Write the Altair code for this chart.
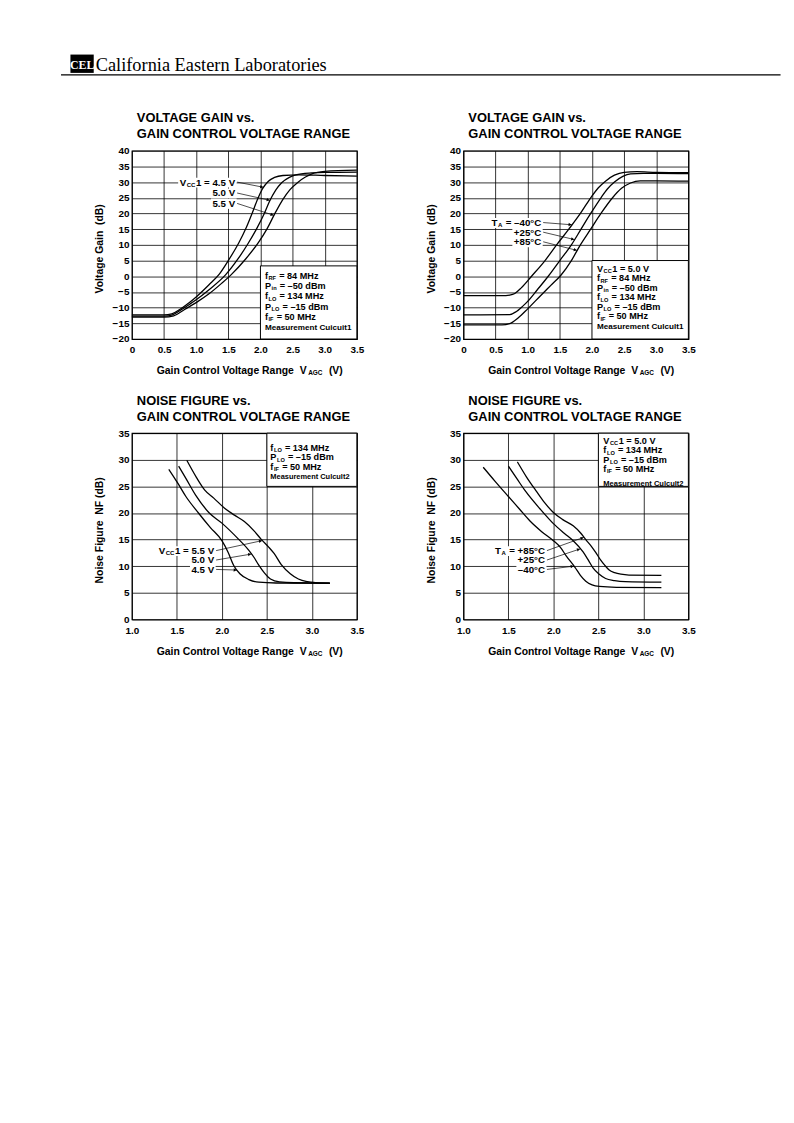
import math
import altair as alt
import numpy as np
import pandas as pd

FONT = "Liberation Sans"
SERIF = "Liberation Serif"
NB = "\u00a0"

# ---------------------------------------------------------------
# Data (V_AGC in volts, gain / NF in dB)
# ---------------------------------------------------------------
# Panel 1: voltage gain vs V_AGC, parameter Vcc1
g1_x_45 = [0, 0.5, 0.62, 0.75, 0.9, 1.0, 1.2, 1.36, 1.5, 1.66, 1.78, 1.87, 1.96, 2.03, 2.12, 2.22, 2.35, 2.6, 3.0, 3.5]
g1_y_45 = [-12.3, -12.3, -12.0, -10.5, -8.3, -6.6, -2.7, 0.7, 5.0, 10.5, 15.5, 20.0, 24.8, 27.8, 30.2, 31.5, 32.1, 32.3, 32.1, 31.9]
g1_x_50 = [0, 0.5, 0.63, 0.78, 0.9, 1.0, 1.2, 1.46, 1.65, 1.81, 1.95, 2.06, 2.14, 2.24, 2.33, 2.45, 2.55, 2.8, 3.0, 3.5]
g1_y_50 = [-12.7, -12.7, -12.3, -10.5, -8.9, -7.5, -4.3, 0.5, 5.5, 10.5, 15.5, 20.0, 23.8, 27.5, 29.8, 31.5, 32.3, 32.9, 33.1, 33.2]
g1_x_55 = [0, 0.5, 0.65, 0.82, 1.0, 1.2, 1.4, 1.55, 1.77, 1.97, 2.1, 2.22, 2.35, 2.46, 2.58, 2.7, 2.8, 3.0, 3.5]
g1_y_55 = [-13.0, -13.0, -12.6, -10.6, -8.4, -5.6, -2.2, 0.6, 5.5, 10.8, 15.0, 19.8, 24.5, 27.6, 29.9, 31.6, 32.6, 33.4, 33.8]

# Panel 2: voltage gain vs V_AGC, parameter TA
g2_x_m40 = [0, 0.6, 0.72, 0.8, 0.9, 1.06, 1.27, 1.45, 1.64, 1.82, 1.98, 2.1, 2.21, 2.35, 2.5, 2.7, 3.0, 3.5]
g2_y_m40 = [-6.2, -6.2, -6.0, -5.5, -3.7, 0.0, 5.0, 10.0, 15.0, 20.0, 25.0, 28.2, 30.3, 32.2, 33.1, 33.3, 33.1, 33.0]
g2_x_25 = [0, 0.72, 0.82, 0.92, 1.0, 1.15, 1.32, 1.5, 1.68, 1.83, 1.98, 2.14, 2.24, 2.35, 2.48, 2.6, 2.8, 3.0, 3.5]
g2_y_25 = [-12.3, -12.2, -11.3, -9.6, -8.0, -4.3, 0.0, 5.0, 10.0, 15.0, 20.0, 25.0, 27.8, 30.0, 31.8, 32.6, 32.8, 32.8, 32.7]
g2_x_85 = [0, 0.6, 0.72, 0.85, 1.0, 1.2, 1.36, 1.52, 1.68, 1.82, 1.98, 2.14, 2.32, 2.46, 2.6, 2.75, 3.0, 3.5]
g2_y_85 = [-15.5, -15.5, -15.1, -13.3, -10.4, -6.2, -2.9, 0.4, 5.0, 10.0, 15.0, 20.0, 25.0, 28.0, 29.7, 30.4, 30.4, 30.3]

# Panel 3: noise figure vs V_AGC, parameter Vcc1
n1_x_45 = [1.41, 1.51, 1.6, 1.74, 1.87, 2.0, 2.07, 2.13, 2.2, 2.3, 2.41, 2.6, 3.2]
n1_y_45 = [28.2, 25.6, 23.1, 20.0, 17.3, 14.8, 12.6, 10.2, 8.6, 7.5, 7.0, 6.85, 6.8]
n1_x_50 = [1.52, 1.6, 1.71, 1.86, 2.0, 2.19, 2.3, 2.36, 2.41, 2.47, 2.54, 2.64, 2.8, 3.2]
n1_y_50 = [28.8, 26.5, 23.3, 20.0, 18.1, 15.0, 13.0, 11.6, 10.2, 8.8, 7.6, 7.05, 6.9, 6.85]
n1_x_55 = [1.61, 1.72, 1.81, 1.91, 2.03, 2.14, 2.25, 2.36, 2.44, 2.52, 2.58, 2.66, 2.76, 2.85, 2.95, 3.05, 3.2]
n1_y_55 = [29.9, 26.6, 24.3, 22.8, 20.9, 19.6, 18.4, 16.6, 15.0, 13.6, 12.4, 10.3, 8.6, 7.6, 7.1, 6.9, 6.8]

# Panel 4: noise figure vs V_AGC, parameter TA
n2_x_m40 = [1.22, 1.35, 1.5, 1.62, 1.74, 1.87, 2.0, 2.08, 2.14, 2.24, 2.3, 2.36, 2.43, 2.51, 2.7, 3.2]
n2_y_m40 = [28.6, 26.0, 23.1, 20.8, 18.5, 16.5, 14.8, 13.5, 12.0, 9.8, 8.3, 7.2, 6.5, 6.2, 6.05, 6.0]
n2_x_25 = [1.5, 1.6, 1.69, 1.85, 2.0, 2.12, 2.22, 2.33, 2.39, 2.44, 2.51, 2.58, 2.68, 2.8, 3.2]
n2_y_25 = [28.8, 26.3, 24.1, 20.8, 18.0, 16.2, 14.8, 12.7, 11.1, 9.7, 8.5, 7.7, 7.3, 7.1, 7.0]
n2_x_85 = [1.6, 1.7, 1.81, 1.9, 2.0, 2.1, 2.22, 2.3, 2.36, 2.42, 2.47, 2.52, 2.57, 2.62, 2.68, 2.75, 2.84, 3.2]
n2_y_85 = [29.6, 26.8, 24.1, 22.0, 20.1, 18.8, 17.6, 16.3, 15.0, 13.8, 12.6, 11.3, 10.2, 9.3, 8.8, 8.5, 8.35, 8.3]

# Tick values
gain_x_ticks = [0, 0.5, 1.0, 1.5, 2.0, 2.5, 3.0, 3.5]
gain_y_ticks = list(range(-20, 41, 5))
nf_x_ticks = [1.0, 1.5, 2.0, 2.5, 3.0, 3.5]
nf_y_ticks = list(range(0, 36, 5))

# Texts
TITLE_GAIN = ["VOLTAGE GAIN vs.", "GAIN CONTROL VOLTAGE RANGE"]
TITLE_NF = ["NOISE FIGURE vs.", "GAIN CONTROL VOLTAGE RANGE"]
YT_GAIN = "Voltage Gain" + NB + NB + "(dB)"
YT_NF = "Noise Figure" + NB + NB + "NF (dB)"
XTITLE = [("Gain Control Voltage Range  V", "n"), ("AGC", "s"), ("  (V)", "n")]
L_FRF = [("f", "n"), ("RF", "s"), (" = 84 MHz", "n")]
L_PIN = [("P", "n"), ("in", "s"), (" = \u201350 dBm", "n")]
L_FLO = [("f", "n"), ("LO", "s"), (" = 134 MHz", "n")]
L_PLO = [("P", "n"), ("LO", "s"), (" = \u201315 dBm", "n")]
L_FIF = [("f", "n"), ("IF", "s"), (" = 50 MHz", "n")]
L_VCC5 = [("V", "n"), ("CC", "s"), ("1 = 5.0 V", "n")]

# ---------------------------------------------------------------
WID = {' ': .278, NB: .278, '.': .278, '=': .584, '\u2212': .584, '\u2013': .556, '-': .333,
       '\u00b0': .4, '+': .584, '(': .333, ')': .333,
       'A': .722, 'B': .722, 'C': .722, 'D': .722, 'E': .667, 'F': .611, 'G': .778, 'H': .722,
       'I': .278, 'L': .611, 'M': .833, 'N': .722, 'O': .778, 'P': .667, 'R': .722, 'S': .667,
       'T': .611, 'U': .722, 'V': .667, 'Z': .611,
       'a': .556, 'b': .611, 'c': .556, 'd': .611, 'e': .556, 'f': .333, 'g': .611, 'h': .611,
       'i': .278, 'k': .556, 'l': .278, 'm': .889, 'n': .611, 'o': .611, 'p': .611, 'r': .389,
       's': .556, 't': .333, 'u': .611, 'v': .556, 'z': .5, 'y': .556}
for d in "0123456789":
    WID[d] = .556


def tw(s, fs):
    return sum(WID.get(c, 0.6) for c in s) * fs


def text_rows(segs, left, base, fs, mfs=8.5):
    """Lay segments side by side; leading/trailing spaces become x advances."""
    rows, x = [], left
    for t, k in segs:
        if k == "s":
            size, dy = fs * 0.62, 1.2
        elif k == "m":
            size, dy = mfs, 0
        else:
            size, dy = fs, 0
        core = t.strip(" ")
        lead = len(t) - len(t.lstrip(" "))
        trail = len(t) - len(t.rstrip(" "))
        x += lead * 0.278 * size
        rows.append({"px": x, "py": base + dy, "t": core.replace(" ", NB), "fs": size})
        x += tw(core, size) + trail * 0.278 * size + 0.6
    return rows, x - left - 0.6


def panel(cfg, header=False):
    w, h = cfg["w"], cfg["h"]
    (x0, x1), (y0, y1) = cfg["xdom"], cfg["ydom"]

    def X(px):
        return x0 + px / w * (x1 - x0)

    def Y(py):
        return y1 - py / h * (y1 - y0)

    def PXf(v):
        return (v - x0) / (x1 - x0) * w

    def PYf(g):
        return (y1 - g) / (y1 - y0) * h

    xsc = alt.Scale(domain=[x0, x1], nice=False, zero=False)
    ysc = alt.Scale(domain=[y0, y1], nice=False, zero=False)
    xax = alt.Axis(values=cfg["xticks"], labelExpr=cfg["xlabel"], title=None)
    yax = alt.Axis(values=cfg["yticks"], format="d", title=None)

    def XE(f):
        return alt.X(f + ":Q", scale=xsc, axis=xax)

    def YE(f):
        return alt.Y(f + ":Q", scale=ysc, axis=yax)

    crow = []
    for name, xs, ys in cfg["series"]:
        for a, b in zip(xs, ys):
            crow.append({"v": a, "g": b, "s": name})
    curves = alt.Chart(pd.DataFrame(crow)).mark_line(
        color="black", strokeWidth=1.3, interpolate="monotone"
    ).encode(x=XE("v"), y=YE("g"), detail="s:N")

    texts = []
    bx0, bx1, by0, by1 = cfg["box"]
    box = alt.Chart(pd.DataFrame([{"a": bx0, "b": bx1, "c": by0, "d": by1}])).mark_rect(
        fill="white", stroke="black", strokeWidth=1
    ).encode(x=XE("a"), x2="b", y=YE("c"), y2="d")
    bleft = PXf(bx0) + cfg["box_inset"]
    for segs, base in zip(cfg["box_lines"], cfg["box_bases"]):
        rows, _ = text_rows(segs, bleft, base, 9.2, cfg["mfs"])
        texts += rows

    smap = {name: (xs, ys) for name, xs, ys in cfg["series"]}
    lfs = 9.8
    bgs, leaders, heads = [], [], []
    for segs, right, base, sname, tipv in cfg["labels"]:
        rows, wd = text_rows(segs, 0, base, lfs)
        left = right - wd
        for r in rows:
            r["px"] += left
        texts += rows
        bgs.append({"a": X(left - 1.5), "b": X(right + 1.5), "c": Y(base - 8.0), "d": Y(base + 2.0)})
        sx, sy = right + 2, base - 3.5
        xs, ys = smap[sname]
        tx, ty = PXf(tipv), PYf(float(np.interp(tipv, xs, ys)))
        leaders.append({"a": X(sx), "c": Y(sy), "b": X(tx), "d": Y(ty)})
        dx, dy = tx - sx, ty - sy
        L = math.hypot(dx, dy)
        ux, uy = dx / L, dy / L
        cx, cy = tx - 2.5 * ux, ty - 2.5 * uy
        ang = math.degrees(math.atan2(ux, -uy)) % 360
        heads.append({"a": X(cx), "c": Y(cy), "ang": ang})

    rows, _ = text_rows(XTITLE, 25, h + 35.5, 10.5)
    texts += rows
    for line, base in zip(cfg["title"], [-28.5, -12.5]):
        texts.append({"px": 5, "py": base, "t": line, "fs": 13})

    tdf = pd.DataFrame([{"x": X(r["px"]), "y": Y(r["py"]), "t": r["t"], "fs": r["fs"]} for r in texts])
    text_layer = alt.Chart(tdf).mark_text(
        align="left", baseline="alphabetic", font=FONT, fontWeight="bold", color="black"
    ).encode(x=XE("x"), y=YE("y"), text="t:N", size=alt.Size("fs:Q", scale=None))

    bg_layer = alt.Chart(pd.DataFrame(bgs)).mark_rect(fill="white").encode(
        x=XE("a"), x2="b", y=YE("c"), y2="d")
    lead_layer = alt.Chart(pd.DataFrame(leaders)).mark_rule(color="black", strokeWidth=0.7).encode(
        x=XE("a"), x2="b", y=YE("c"), y2="d")
    head_layer = alt.Chart(pd.DataFrame(heads)).mark_point(
        shape="triangle", filled=True, color="black", size=12, opacity=1
    ).encode(x=XE("a"), y=YE("c"), angle=alt.Angle("ang:Q", scale=None))

    ytitle = alt.Chart(pd.DataFrame([{"x": X(-32), "y": Y(h / 2 + 4), "t": cfg["ytitle"]}])).mark_text(
        angle=270, align="center", baseline="middle", font=FONT, fontWeight="bold", fontSize=10.5,
        color="black"
    ).encode(x=XE("x"), y=YE("y"), text="t:N")

    layers = [box, bg_layer, curves, lead_layer, head_layer, text_layer, ytitle]

    if header:
        rule = alt.Chart(pd.DataFrame([{"a": X(-71.5), "b": X(654.5), "c": Y(-76.5)}])).mark_rule(
            color="black", strokeWidth=1.5).encode(x=XE("a"), x2="b", y=YE("c"))
        logo = alt.Chart(pd.DataFrame([{"a": X(-62), "b": X(-38.5), "c": Y(-97), "d": Y(-78.5)}])).mark_rect(
            fill="black").encode(x=XE("a"), x2="b", y=YE("c"), y2="d")
        logo_t = alt.Chart(pd.DataFrame([{"x": X(-50.2), "y": Y(-82.5), "t": "CEL"}])).mark_text(
            align="center", baseline="alphabetic", font=SERIF, fontWeight="bold", fontSize=12,
            color="white").encode(x=XE("x"), y=YE("y"), text="t:N")
        company = alt.Chart(pd.DataFrame([{"x": X(-36.5), "y": Y(-80.5),
                                           "t": "California" + NB + "Eastern" + NB + "Laboratories"}])).mark_text(
            align="left", baseline="alphabetic", font=SERIF, fontSize=18.5, color="black"
        ).encode(x=XE("x"), y=YE("y"), text="t:N")
        layers += [rule, logo, logo_t, company]

    return alt.layer(*layers).properties(width=w, height=h)


GAIN_XLABEL = "datum.value == 0 ? '0' : format(datum.value, '.1f')"
NF_XLABEL = "format(datum.value, '.1f')"

cfg_tl = dict(
    w=227, h=190, xdom=(0, 3.5), ydom=(-20, 40), xticks=gain_x_ticks, yticks=gain_y_ticks,
    xlabel=GAIN_XLABEL, title=TITLE_GAIN, ytitle=YT_GAIN,
    series=[("4.5", g1_x_45, g1_y_45), ("5.0", g1_x_50, g1_y_50), ("5.5", g1_x_55, g1_y_55)],
    box=(2.0, 3.5, 3.3, -20), box_inset=4.5, mfs=8.2,
    box_lines=[L_FRF, L_PIN, L_FLO, L_PLO, L_FIF, [("Measurement Cuicuit1", "m")]],
    box_bases=[129.2, 139.6, 150.0, 160.4, 170.8, 181.0],
    labels=[([("V", "n"), ("CC", "s"), ("1 = 4.5 V", "n")], 104.2, 35.2, "4.5", 2.05),
            ([("5.0 V", "n")], 104.2, 46.2, "5.0", 2.15),
            ([("5.5 V", "n")], 104.2, 56.7, "5.5", 2.21)],
)
cfg_tr = dict(
    w=227, h=190, xdom=(0, 3.5), ydom=(-20, 40), xticks=gain_x_ticks, yticks=gain_y_ticks,
    xlabel=GAIN_XLABEL, title=TITLE_GAIN, ytitle=YT_GAIN,
    series=[("-40", g2_x_m40, g2_y_m40), ("+25", g2_x_25, g2_y_25), ("+85", g2_x_85, g2_y_85)],
    box=(2.0, 3.5, 5.0, -20), box_inset=5, mfs=8.2,
    box_lines=[L_VCC5, L_FRF, L_PIN, L_FLO, L_PLO, L_FIF, [("Measurement Culcult1", "m")]],
    box_bases=[122.2, 131.8, 141.4, 151.0, 160.6, 170.2, 180.0],
    labels=[([("T", "n"), ("A", "s"), (" = \u201340\u00b0C", "n")], 78.5, 76.0, "-40", 1.69),
            ([("+25\u00b0C", "n")], 78.5, 85.7, "+25", 1.73),
            ([("+85\u00b0C", "n")], 78.5, 95.4, "+85", 1.77)],
)
cfg_bl = dict(
    w=227, h=188, xdom=(1.0, 3.5), ydom=(0, 35), xticks=nf_x_ticks, yticks=nf_y_ticks,
    xlabel=NF_XLABEL, title=TITLE_NF, ytitle=YT_NF,
    series=[("4.5", n1_x_45, n1_y_45), ("5.0", n1_x_50, n1_y_50), ("5.5", n1_x_55, n1_y_55)],
    box=(2.5, 3.5, 35, 25), box_inset=3.5, mfs=7.5,
    box_lines=[L_FLO, L_PLO, L_FIF, [("Measurement Culcult2", "m")]],
    box_bases=[17.7, 27.4, 37.1, 46.3],
    labels=[([("V", "n"), ("CC", "s"), ("1 = 5.5 V", "n")], 83, 122.0, "5.5", 2.45),
            ([("5.0 V", "n")], 83, 131.5, "5.0", 2.33),
            ([("4.5 V", "n")], 83, 141.0, "4.5", 2.17)],
)
cfg_br = dict(
    w=227, h=188, xdom=(1.0, 3.5), ydom=(0, 35), xticks=nf_x_ticks, yticks=nf_y_ticks,
    xlabel=NF_XLABEL, title=TITLE_NF, ytitle=YT_NF,
    series=[("-40", n2_x_m40, n2_y_m40), ("+25", n2_x_25, n2_y_25), ("+85", n2_x_85, n2_y_85)],
    box=(2.5, 3.5, 35, 25), box_inset=5, mfs=7.6,
    box_lines=[L_VCC5, L_FLO, L_PLO, L_FIF, [("Measurement Culcult2", "m")]],
    box_bases=[10.5, 20.4, 29.7, 39.4, 53.0],
    labels=[([("T", "n"), ("A", "s"), (" = +85\u00b0C", "n")], 82.3, 122.0, "+85", 2.34),
            ([("+25\u00b0C", "n")], 82.3, 131.5, "+25", 2.30),
            ([("\u201340\u00b0C", "n")], 82.3, 141.0, "-40", 2.23)],
)

chart = alt.concat(
    panel(cfg_tl, header=True), panel(cfg_tr), panel(cfg_bl), panel(cfg_br),
    columns=2, spacing=alt.RowColnumber(row=95, column=107.5), bounds="flush",
).properties(
    padding={"left": 52, "top": 43, "right": 4, "bottom": 10}
).configure_axis(
    labelFont=FONT, labelFontSize=10, labelFontWeight="bold", labelColor="black",
    grid=True, gridColor="black", gridOpacity=1, gridWidth=0.8,
    domain=False, ticks=False, labelFlush=False, labelOverlap=False,
).configure_axisX(labelPadding=6).configure_axisY(labelPadding=3).configure_view(
    stroke="black", strokeWidth=1.2
)

chart.save("out.html", embed_options={"renderer": "svg", "actions": False})
